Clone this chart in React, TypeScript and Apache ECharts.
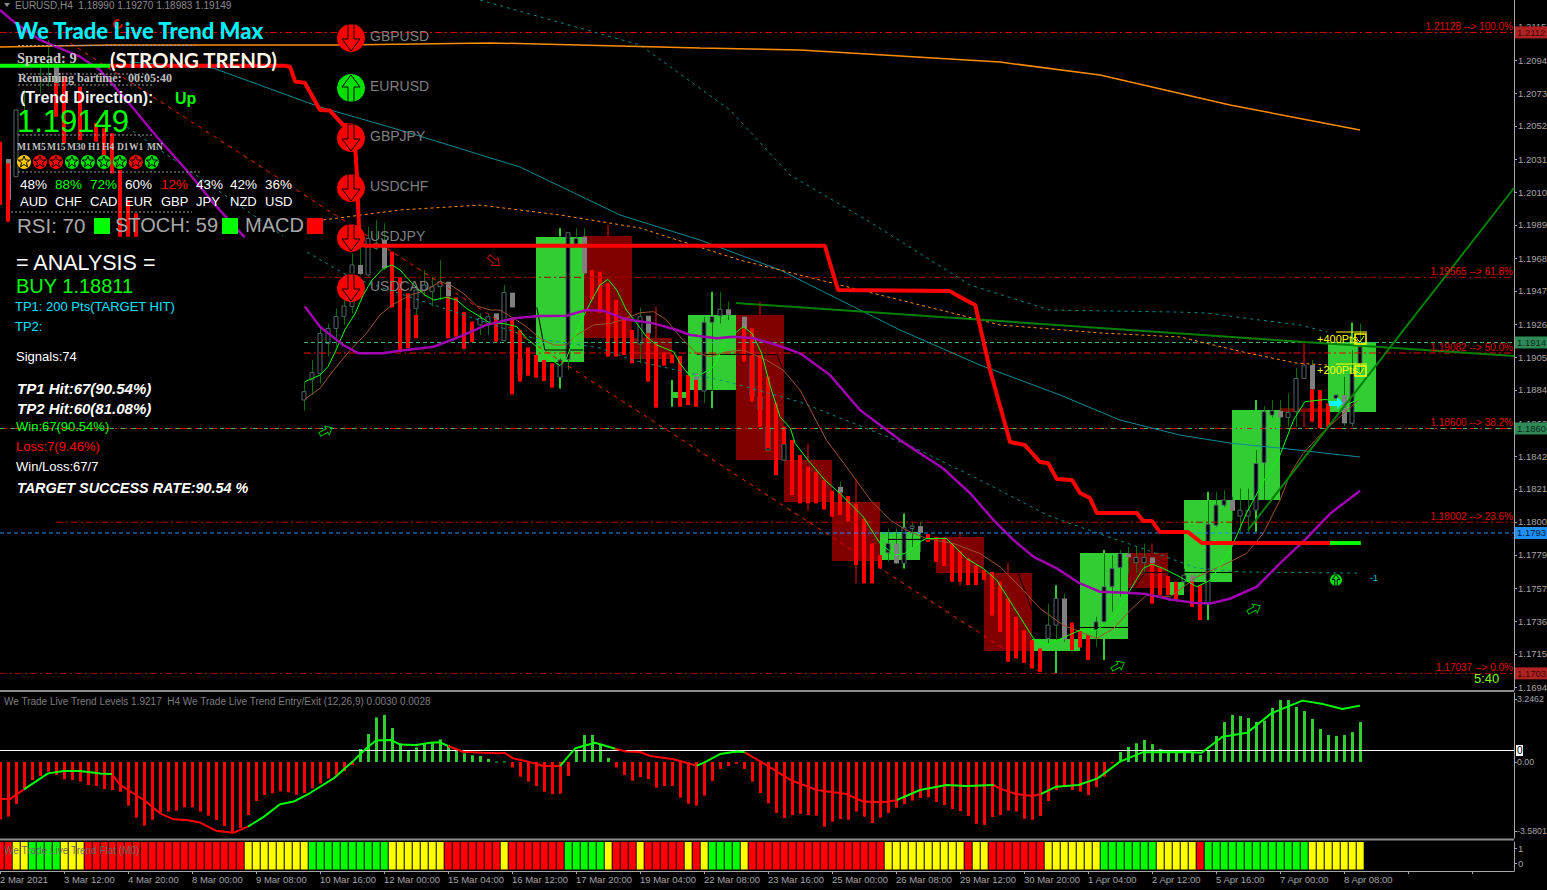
import React, { useEffect, useRef } from "react";
import * as echarts from "echarts";

// ---------- prices are written in points (1.19149 = 119149) ----------
const priceTicks = [121163,120952,120741,120531,120320,120109,119899,119688,119478,119267,119056,118846,118635,118424,118214,118004,117793,117582,117371,117161,116950];
const priceTickLabels = ["1.2115","1.2094","1.2073","1.2052","1.2031","1.2010","1.1989","1.1968","1.1947","1.1926","1.1905","1.1884","1.1863","1.1842","1.1821","1.1800","1.1779","1.1757","1.1736","1.1715","1.1694"];
const timeLabels = ["2 Mar 2021","3 Mar 12:00","4 Mar 20:00","8 Mar 00:00","9 Mar 08:00","10 Mar 16:00","12 Mar 00:00","15 Mar 04:00","16 Mar 12:00","17 Mar 20:00","19 Mar 04:00","22 Mar 08:00","23 Mar 16:00","25 Mar 00:00","26 Mar 08:00","29 Mar 12:00","30 Mar 20:00","1 Apr 04:00","2 Apr 12:00","5 Apr 16:00","7 Apr 00:00","8 Apr 08:00"];

const greenBoxes = [[67,73,119822,119024],[84,86,118833,118795],[86,92,119324,118846],[110,115,117939,117760],[129,135,117256,117180],[135,141,117805,117256],[146,148,117620,117537],[148,154,118144,117620],[154,160,118718,118144],[166,172,119152,118705]];
const darkBoxes = [[73,79,119829,119178],[79,84,119178,119044],[92,98,119324,118399],[98,104,118399,118131],[104,110,118131,117754],[117,123,117907,117677],[123,129,117677,117180],[141,146,117805,117582],[160,166,118730,118705]];

const wicks = [[2,120633,120207],[3,120760,120570],[5,120930,120740],[6,121080,120780],[38,118899,118714],[39,119037,118814],[40,119250,118888],[41,119271,119059],[42,119367,119122],[43,119452,119261],[44,119718,119335],[45,119803,119580],[46,119888,119569],[47,119931,119739],[48,119910,119612],[51,119463,119165],[52,119516,119176],[53,119612,119442],[54,119569,119378],[55,119676,119420],[60,119335,119197],[61,119335,119197],[63,119516,119154],[70,119048,118856],[71,119850,118973],[72,119878,119778],[73,119878,119580],[80,119373,119016],[88,119314,118761],[89,119473,118729],[90,119473,119271],[91,119410,119293],[105,118260,118047],[111,117962,117749],[112,117962,117734],[113,118058,117707],[114,118005,117841],[115,118005,117813],[131,117483,117228],[132,117600,117036],[133,117547,117239],[137,117398,117207],[138,117824,117122],[139,117792,117430],[140,117824,117526],[141,117845,117675],[142,117845,117675],[143,117866,117675],[148,117707,117590],[151,118196,117377],[152,118196,117973],[153,118207,118100],[154,118164,118015],[155,118217,117941],[156,118217,117941],[157,118462,117941],[158,118743,118143],[159,118782,118671],[160,118782,118611],[161,118824,118611],[162,118984,118611],[164,119037,118643],[168,118931,118616],[169,119100,118611],[170,119271,118952]];
const brightWicks = [[70,118931,118856],[70,119878,119825],[84,118910,118739],[89,119473,119314],[89,118839,118729],[113,118058,117968],[113,117739,117707],[132,117249,117036],[132,117600,117515],[138,117824,117802],[138,117366,117122],[151,118196,118143],[151,117483,117377],[157,118782,118718],[157,118079,117941],[169,119277,119143]];
const darkWicks = [[76,119899,119829],[82,119378,119144],[95,119410,119325],[101,118505,118079],[107,118281,117611],[120,117941,117594],[126,117743,117515],[144,117866,117483],[163,119154,119005],[163,118720,118611]];

const hollowBodies = [[2,120633,120207],[38,118835,118782],[39,118956,118910],[40,119207,118952],[41,119239,119144],[42,119314,119239],[43,119382,119314],[44,119644,119378],[46,119814,119580],[47,119782,119750],[51,119367,119165],[52,119484,119367],[53,119516,119484],[54,119505,119473],[55,119537,119505],[60,119303,119261],[61,119314,119271],[63,119467,119161],[65,119048,118941],[70,119037,118927],[71,119850,119041],[72,119814,119778],[80,119314,119139],[88,119278,118839],[89,119314,119278],[90,119361,119320],[94,119059,118803],[95,118803,118718],[96,118612,118463],[98,118500,118398],[111,117866,117807],[113,117968,117739],[114,117977,117962],[131,117345,117260],[132,117515,117345],[137,117366,117313],[138,117590,117366],[139,117707,117590],[140,117802,117713],[142,117777,117743],[143,117777,117743],[148,117664,117622],[151,117990,117483],[152,118111,117983],[153,118143,118111],[155,118079,118041],[156,118079,118041],[157,118377,118079],[158,118707,118382],[159,118713,118686],[161,118701,118671],[162,118920,118707],[163,119005,118920],[167,118814,118792],[169,118952,118633],[170,119122,119016]];
const grayBodies = [[1,120320,120060],[7,120920,120803],[45,119644,119586],[48,119803,119622],[56,119537,119442],[62,119335,119293],[64,119467,119373],[73,119825,119590],[81,119320,119207],[87,118952,118910],[91,119361,119325],[93,119314,119239],[105,118228,118190],[112,117866,117739],[115,117977,117934],[133,117515,117253],[141,117802,117777],[144,117777,117739],[149,117664,117622],[154,118143,118075],[160,118713,118671],[164,119005,118850],[168,118814,118633]];
const redBodies = [[0,120431,120026],[1,120292,119920],[7,120803,120590],[8,120846,120420],[10,120782,120441],[12,120548,120431],[13,120516,120271],[14,120484,120228],[15,120250,119824],[16,120058,119824],[17,119973,119824],[49,119729,119373],[50,119565,119097],[51,119463,119112],[52,119325,119176],[56,119442,119176],[57,119437,119186],[58,119344,119107],[59,119282,119150],[62,119293,119154],[64,119303,118818],[65,119229,118899],[66,119118,118937],[67,119069,118924],[68,119037,118903],[69,119016,118861],[74,119612,119425],[75,119601,119339],[76,119527,119059],[77,119420,119059],[78,119310,119069],[79,119229,119016],[81,119207,118899],[82,119144,118733],[83,119086,119001],[84,119073,119016],[85,119063,118739],[86,118941,118750],[87,118910,118739],[93,119239,119027],[94,119239,118771],[95,119080,118612],[96,118931,118473],[97,118761,118303],[98,118612,118500],[99,118527,118175],[100,118430,118122],[101,118356,118122],[102,118324,118122],[103,118271,118083],[104,118203,118037],[105,118190,118047],[106,118169,118005],[107,118122,117728],[108,118022,117611],[109,117866,117611],[110,117792,117707],[116,117926,117877],[117,117909,117749],[118,117898,117722],[119,117866,117622],[120,117819,117622],[121,117771,117600],[122,117728,117600],[123,117696,117632],[124,117685,117405],[125,117622,117302],[126,117515,117111],[127,117398,117132],[128,117313,117104],[129,117249,117068],[130,117196,117047],[134,117362,117185],[135,117309,117202],[136,117281,117122],[144,117739,117483],[145,117713,117536],[146,117658,117536],[147,117622,117505],[149,117622,117462],[150,117600,117377],[164,118850,118643],[165,118845,118601],[166,118760,118611]];

const fastLine = [[38.1,118899],[40,118941],[41,118995],[42,119101],[43.1,119229],[44.4,119335],[45.4,119452],[46.5,119548],[47.9,119622],[49,119644],[50,119612],[51.7,119516],[53.1,119452],[54.2,119420],[55.8,119437],[57.1,119420],[58.3,119367],[60,119314],[61.3,119271],[62.9,119271],[64.6,119250],[65.8,119176],[67.1,119122],[68.3,119059],[70,119001],[70.8,119048],[71.7,119165],[72.9,119314],[74.2,119442],[75,119516],[76,119552],[77.1,119484],[78.3,119356],[79.6,119271],[80.8,119186],[82.1,119133],[84.2,119090],[85,119016],[86.3,118931],[87.5,118941],[89.2,118995],[90.8,119165],[92.9,119250],[94,119207],[95.2,119080],[96.3,118867],[97.5,118675],[98.8,118601],[99.4,118505],[101,118398],[103.1,118271],[105,118186],[107.9,118037],[110,117866],[111.9,117792],[113.1,117802],[115,117877],[115.8,117898],[118.3,117898],[120.8,117771],[122.9,117707],[124.6,117632],[126.7,117462],[129.2,117260],[130.8,117217],[135,117313],[137.1,117313],[139.2,117398],[141,117547],[142.9,117707],[144,117734],[145.4,117707],[147.5,117653],[149.6,117590],[151.3,117632],[153.8,117824],[155.8,118058],[157.9,118260],[160,118430],[161.7,118654],[163.1,118771],[165.8,118786],[167.9,118739],[170,118792]];
const slowLine = [[38.1,118788],[40,118856],[41.7,118973],[43.8,119101],[45.8,119207],[47.5,119325],[49,119388],[51.3,119452],[53.3,119484],[55,119537],[56.3,119516],[57.9,119463],[59.6,119382],[61.3,119356],[62.5,119356],[64.2,119303],[65.8,119250],[67.5,119176],[69.2,119133],[70.8,119133],[72.1,119197],[74.2,119261],[76.3,119271],[78.3,119303],[80,119339],[81.7,119346],[83.3,119293],[85,119186],[87.1,119080],[88.8,119059],[90.8,119090],[92.9,119101],[95.8,119037],[97.9,118973],[100,118846],[103.3,118526],[105.8,118356],[108.8,118143],[111.3,118015],[113.3,117951],[115.8,117898],[119.2,117866],[122.5,117802],[125,117717],[127.5,117590],[130,117451],[132.9,117345],[137.1,117260],[139.2,117324],[141.3,117441],[143.3,117536],[146.3,117526],[149.6,117653],[152.9,117728],[155.8,117802],[157.9,117930],[160,118143],[161.3,118313],[162.9,118441],[165,118558],[167.5,118675],[170,118792]];
const purpleTop = [[0,121271],[1.7,121197],[5,121080],[10,120973],[12.5,120888],[15.8,120697],[19.6,120462],[23.3,120250],[26.7,120037],[30.6,119820]];
const purpleMain = [[38.1,119378],[40,119250],[42.9,119133],[44.8,119080],[47.9,119080],[50,119097],[54.2,119122],[57.5,119186],[60.8,119261],[64.2,119303],[67.5,119318],[70.8,119320],[73.3,119356],[75.4,119352],[78.3,119297],[81.7,119271],[84.6,119229],[86.3,119197],[89.6,119176],[91.7,119186],[94.2,119176],[97.1,119133],[100,119080],[103.75,118941],[107.5,118718],[112.5,118526],[117.9,118345],[121.3,118185],[124.2,118015],[126.7,117888],[129.2,117781],[132.1,117707],[135,117611],[137.5,117558],[140.8,117551],[143.3,117543],[146.3,117509],[149.2,117488],[151.3,117483],[153.8,117515],[157.1,117590],[160,117739],[163.3,117899],[166.3,118058],[170,118203]];
const stopBuyPart = [[0,120916],[13.75,120916]];
const stopRed = [[13.75,120916],[35.6,120916],[36.25,120909],[36.9,120814],[38.1,120807],[40,120633],[41.25,120629],[42.9,120537],[44,120537],[44.4,120399],[44.6,120228],[44.8,119973],[45,119771],[45.8,119767],[103.1,119767],[104.75,119484],[118.75,119477],[120,119439],[121.9,119388],[123.75,118973],[126.25,118514],[128.1,118495],[130,118386],[131,118380],[132.1,118278],[134,118271],[135,118188],[136.25,118156],[137.1,118061],[142.1,118061],[142.9,118009],[144,118009],[145,117939],[148.5,117939],[150.25,117869],[166.25,117869]];
const stopGreenEnd = [[166.25,117869],[170.1,117869]];
const longGreen = [[92,119401],[163.1,119152],[189.25,119063]];
const riseGreen = [[156,117952],[189.25,120135]];
const orangeSolid = [[0,121035],[13.75,121048],[42.5,121048],[61.25,121061],[87.5,121029],[100,121016],[125,120939],[137.5,120856],[153.75,120665],[170,120505]];
const orangeDash = [[40.4,119931],[50,119995],[60,120026],[70,119963],[80,119880],[92.5,119675],[107.5,119484],[125,119261],[137.5,119210],[147.5,119184],[155.9,119082],[162,119018],[165.9,119005]];
const tealUpper = [[60,121335],[80,121048],[91.25,120633],[98.75,120218],[108.75,119918],[121.25,119516],[131.25,119356],[147.5,119343],[150.9,119337],[157.5,119292],[162.5,119261],[165.9,119216]];
const tealSolid = [[16.25,120939],[26.6,120901],[40,120652],[50,120505],[65,120269],[77.5,119963],[87.5,119803],[97.5,119612],[112.5,119229],[122.5,119005],[132.5,118814],[140,118654],[147.5,118558],[153.75,118507],[160,118475],[170,118418]];
const tealLowerA = [[15.9,120524],[35.4,119829]];
const tealLowerB = [[38.4,119726],[43.75,119567],[66.6,119178],[75,119114],[79.1,119037],[91.6,118890],[100,118769],[114.1,118482],[122.5,118271],[130.9,118048],[135,117971],[143.4,117824],[149.6,117709],[155.4,117684],[170,117677]];
const redDiagonal = [[8.75,121061],[130,117046]];
const blackSegments = [[[67.1,119373],[68.1,119101],[72.9,119101]],[[87.1,119073],[97.1,119073],[97.9,118973]],[[111,117892],[116.9,117892]],[[127.3,117675],[129,117441]],[[141.7,117579],[143.1,117681],[146,117681]],[[135,117330],[141,117330]],[[148,117681],[154,117681]]];

const fibPrices = [121128,119565,119082,118600,118002,117037];
const fibNames = ["1.21128 --> 100.0%","1.19565 --> 61.8%","1.19082 --> 50.0%","1.18600 --> 38.2%","1.18002 --> 23.6%","1.17037 --> 0.0%"];
const fibStarts = [0,38,38,0,7,0];
const fibColors = ["#e00000","#a80000","#f00000","#f00000","#b80000","#a00000"];
const bidPrice = 119149;
const askLevel = 118600;
const blueLevel = 117933;

const macdHist = [-2.97,-2.83,-2.18,-1.42,-.93,-.73,-.5,-.67,-.9,-.93,-1.02,-1.19,-1.24,-1.4,-1.45,-1.54,-2.26,-2.88,-3.3,-2.99,-2.61,-2.57,-2.52,-2.35,-2.35,-2.57,-2.78,-3.01,-3.32,-3.61,-3.42,-2.75,-2.02,-1.71,-1.62,-1.52,-1.57,-1.69,-1.61,-1.36,-1.11,-.85,-.67,-.47,-.16,.67,1.45,2.31,2.44,1.76,.97,.57,.76,.92,1.05,1.17,.88,.62,.45,.35,.31,.16,.02,.03,-.28,-.76,-1.02,-1.24,-1.54,-1.66,-1.64,-.73,.62,1.4,1.4,.88,.21,-.28,-.67,-.97,-.78,-.88,-1.33,-1.24,-1.24,-1.85,-2.16,-2.26,-1.74,-.98,-.36,-.21,-.09,-.36,-1.02,-1.61,-2.14,-2.64,-2.9,-2.75,-2.69,-2.75,-2.78,-3.35,-3.09,-2.95,-2.99,-2.57,-2.83,-3.16,-2.88,-2.64,-2.37,-2.18,-2,-1.87,-1.83,-2.07,-2.23,-2.44,-2.54,-2.8,-3.2,-3.26,-2.85,-2.75,-2.52,-2.57,-2.94,-2.99,-2.8,-2.02,-1.45,-1.23,-1.45,-1.54,-1.71,-1.3,-.76,-.07,.52,.78,.97,1.14,.93,.67,.52,.52,.52,.52,.36,.59,1.35,2.07,2.44,2.38,2.28,2.07,2.14,2.8,3.21,3.21,2.85,2.64,2.23,1.71,1.4,1.35,1.4,1.55,2.07];
const signalRed = [
  [[0,-1.92],[1.25,-1.92],[3,-1.42]],
  [[14,-.62],[15,-1.19],[18,-1.97],[20,-2.66],[21.7,-2.97],[23.3,-3.01],[25,-3.14],[27,-3.56],[29.2,-3.66],[31,-3.35]],
  [[56,.83],[57.9,.53],[60.4,.48],[62.5,.45],[63.1,.48],[64.1,.19],[66,.02],[67.9,-.21],[70,-.21]],
  [[76.9,.69],[78.3,.54],[80,.52],[81.3,.31],[84.2,.14],[87.1,-.19]],
  [[93.1,.5],[95.8,-.16],[98.8,-.93],[102.1,-1.45],[105.8,-1.66],[107.9,-2.05],[110.4,-2.09],[112.1,-1.97]],
  [[124.2,-1.19],[125,-1.38],[127,-1.66],[129.1,-1.76],[130.1,-1.66]],
];
const signalGreen = [
  [[3,-1.42],[6,-.59],[8,-.47],[10,-.47],[12.5,-.59],[14,-.62]],
  [[31,-3.35],[33,-2.83],[35,-2.19],[36.7,-2.05],[38.7,-1.62],[41.7,-.85],[44.2,.07],[45.8,.71],[47,1.11],[48.8,1.14],[50,.91],[52,.88],[53.8,1],[55,1.02],[56,.83]],
  [[70,-.21],[71.9,.71],[74.4,1],[76.9,.69]],
  [[87.1,-.19],[88,-.03],[90,.41],[92.1,.54],[93.1,.5]],
  [[112.1,-1.97],[115,-1.45],[118.3,-1.19],[120.8,-1.24],[124.2,-1.19]],
  [[130.1,-1.66],[132,-1.28],[134.8,-1.19],[137.2,-.85],[140,.02],[142.8,.5],[148.5,.52],[150.2,.48],[152.8,1.31],[155.9,1.52],[158.9,2.52],[162.8,3.18],[165.4,3],[167.8,2.75],[170,2.92]],
];
const levelLine = 0.596;
const macdAxisTicks = [3.2462, 0, -3.5801];
const macdAxisLabels = ["3.2462", "0.00", "-3.5801"];
const flatRuns: [number, number][] = [[2,2],[1,2],[0,4],[1,3],[2,20],[1,8],[0,10],[1,7],[2,7],[1,1],[2,7],[0,5],[1,1],[2,3],[1,1],[2,5],[1,1],[2,1],[1,1],[0,4],[1,1],[2,17],[1,10],[2,1],[1,2],[2,7],[1,7],[0,7],[1,5],[2,1],[0,13],[1,7]];
const flatColors = ["#00ff00", "#ffff00", "#ff0000"];

const symbols = ["GBPUSD","EURUSD","GBPJPY","USDCHF","USDJPY","USDCAD"];
const symbolUp = [false,true,false,false,false,false];
const timeframes = ["M1","M5","M15","M30","H1","H4","D1","W1","MN"];
const tfX = [17,32,47,67,88,102,117,129,147];
const tfStars = [1,2,2,0,0,0,0,2,0];
const strengthPct = ["48%","88%","72%","60%","12%","43%","42%","36%"];
const strengthCur = ["AUD","CHF","CAD","EUR","GBP","JPY","NZD","USD"];
const strengthCol = ["#fff","#00ff00","#00ff00","#fff","#ff0000","#fff","#fff","#fff"];
const strengthX = [20,55,90,125,161,196,230,265];

// ---------- layout ----------
const XMAX = 189.25;
const PX_PER_PT = 1 / 6.383;
const priceY = (pts: number) => (121335 - pts) * PX_PER_PT;
const LABEL_FONT = "Liberation Sans";

const toPrice = (rows: number[][]) => rows.map(([i, p]) => [i, p / 1e5]);

function lineS(data: number[][], color: string, width: number, dash?: any, grid = 0): any {
  return {
    type: "line", xAxisIndex: grid, yAxisIndex: grid, data: grid === 0 ? toPrice(data) : data,
    showSymbol: false, symbol: "none", silent: true, connectNulls: false,
    lineStyle: { color, width, type: dash || "solid" },
  };
}
function barS(rows: number[][], fill: string, w: number, stroke?: string): any {
  return {
    type: "custom", xAxisIndex: 0, yAxisIndex: 0, clip: true, silent: true,
    data: rows.map(([i, a, b]) => [i, a / 1e5, b / 1e5]),
    encode: { x: 0, y: [1, 2] },
    renderItem: (_p: any, api: any) => {
      const a = api.coord([api.value(0), api.value(1)]);
      const b = api.coord([api.value(0), api.value(2)]);
      return { type: "rect", shape: { x: Math.round(a[0] - w / 2), y: a[1], width: w, height: Math.max(1, b[1] - a[1]) },
        style: { fill, stroke: stroke || undefined, lineWidth: stroke ? 1 : 0 } };
    },
  };
}
function boxS(rows: number[][], fill: string): any {
  return {
    type: "custom", xAxisIndex: 0, yAxisIndex: 0, clip: true, silent: true,
    data: rows.map(([a, b, t, c]) => [a, b, t / 1e5, c / 1e5]),
    encode: { x: [0, 1], y: [2, 3] },
    renderItem: (_p: any, api: any) => {
      const p = api.coord([api.value(0), api.value(2)]);
      const q = api.coord([api.value(1), api.value(3)]);
      return { type: "rect", shape: { x: p[0], y: p[1], width: q[0] - p[0], height: q[1] - p[1] }, style: { fill } };
    },
  };
}

function text(x: number, y: number, t: string, fill: string, font: string, align = "left"): any {
  return { type: "text", x, y, z: 100, silent: true, style: { text: t, fill, font, align, verticalAlign: "middle" } };
}
function hline(x1: number, x2: number, y: number, stroke: string, dash?: number[], lineWidth = 1): any {
  return { type: "line", z: 90, silent: true, shape: { x1, y1: y, x2, y2: y }, style: { stroke, lineWidth, lineDash: dash } };
}
function starPts(r: number) {
  const pts: number[][] = [];
  for (let k = 0; k < 10; k++) {
    const a = -Math.PI / 2 + (k * Math.PI) / 5;
    const rr = k % 2 ? r * 0.42 : r;
    pts.push([rr * Math.cos(a), rr * Math.sin(a)]);
  }
  return pts;
}
function signalArrow(cx: number, cy: number, r: number, up: boolean, col: string): any[] {
  const s = up ? -1 : 1;
  const k = r / 14;
  const pts = [[-3,-14],[3,-14],[3,1],[9,1],[0,13],[-9,1],[-3,1]].map(([a, b]) => [cx + a * k, cy + s * b * k]);
  return [
    { type: "circle", z: 95, silent: true, shape: { cx, cy, r }, style: { fill: col } },
    { type: "polygon", z: 96, silent: true, shape: { points: pts }, style: { fill: col, stroke: "#000", lineWidth: 1 } },
  ];
}
function hookArrow(x: number, y: number, rot: number, col: string): any {
  const pts = [[-7,-2],[1,-2],[1,-5],[7,0],[1,5],[1,2],[-7,2]];
  return { type: "polygon", z: 96, silent: true, x, y, rotation: rot, shape: { points: pts }, style: { fill: "none", stroke: col, lineWidth: 1 } };
}

function overlay(): any[] {
  const g: any[] = [];
  const gray = "#9a9a9a";
  const dots = [2, 2];
  g.push(hline(0, 1514, 691, "#8c8c8c", undefined, 2));
  g.push(hline(0, 1514, 839.5, "#8c8c8c", undefined, 2));
  g.push({ type: "polygon", z: 100, silent: true, shape: { points: [[4, 3], [10, 3], [7, 7]] }, style: { fill: "#8a8a8a" } });
  g.push(text(15, 5.5, "EURUSD,H4  1.18990 1.19270 1.18983 1.19149", "#8a8a8a", `10px ${LABEL_FONT}`));
  g.push(text(15, 30, "We Trade Live Trend Max", "#00f0ff", "900 22px Lato"));
  g.push({ type: "arc", z: 96, silent: true, shape: { cx: 118, cy: 24, r: 4, startAngle: 0, endAngle: 5 }, style: { stroke: "#e00000", lineWidth: 2, fill: "none" } });
  g.push(hline(18, 198, 45.5, gray, dots));
  g.push(text(17, 58, "Spread: 9", "#c8c8c8", "bold 14.5px 'Liberation Serif'"));
  g.push(text(110, 60, "(STRONG TREND)", "#fff5e6", "bold 20.4px Lato"));
  g.push(hline(18, 150, 74, gray, dots));
  g.push(text(18, 78, "Remaining bartime:", "#c0c0c0", "bold 12px 'Liberation Serif'"));
  g.push(text(128, 78, "00:05:40", "#c0c0c0", "bold 12px 'Liberation Serif'"));
  g.push(hline(18, 153, 85, gray, dots));
  g.push(text(20, 97, "(Trend Direction):", "#f0f0f0", "bold 16px 'Liberation Sans'"));
  g.push(text(175, 98, "Up", "#00ff00", "bold 16px 'Liberation Sans'"));
  g.push(text(17, 121, "1.19149", "#00ff00", `31px ${LABEL_FONT}`));
  g.push(hline(18, 153, 135, gray, dots));
  timeframes.forEach((t, k) => g.push(text(tfX[k], 147, t, "#c0c0c0", "bold 9.5px 'Liberation Serif'")));
  tfStars.forEach((c, k) => {
    const cx = 24 + k * 15.97;
    const col = ["#00e000", "#ffc800", "#ff0000"][c];
    g.push({ type: "circle", z: 96, silent: true, shape: { cx, cy: 162, r: 7 }, style: { fill: col } });
    g.push({ type: "polygon", z: 97, silent: true, x: cx, y: 162, shape: { points: starPts(6) }, style: { fill: col, stroke: "#000", lineWidth: 1 } });
  });
  g.push(hline(18, 200, 172, gray, dots));
  strengthX.forEach((x, k) => {
    g.push(text(x, 184, strengthPct[k], strengthCol[k], `13.5px ${LABEL_FONT}`));
    g.push(text(x, 201, strengthCur[k], "#ffffff", `13px ${LABEL_FONT}`));
  });
  g.push(hline(11, 192, 212, gray, dots));
  g.push(text(17, 225, "RSI: 70", "#a8a8a8", `20.5px ${LABEL_FONT}`));
  g.push({ type: "rect", z: 96, silent: true, shape: { x: 94, y: 218, width: 16, height: 16 }, style: { fill: "#00ff00" } });
  g.push(text(115, 225, "STOCH: 59", "#a8a8a8", `20px ${LABEL_FONT}`));
  g.push({ type: "rect", z: 96, silent: true, shape: { x: 222, y: 218, width: 16, height: 16 }, style: { fill: "#00ff00" } });
  g.push(text(245, 225, "MACD", "#a8a8a8", `20px ${LABEL_FONT}`));
  g.push({ type: "rect", z: 96, silent: true, shape: { x: 307, y: 218, width: 16, height: 16 }, style: { fill: "#ff0000" } });
  g.push(text(16, 263, "= ANALYSIS =", "#ffffff", `21.5px ${LABEL_FONT}`));
  g.push(text(16, 286, "BUY 1.18811", "#00ff00", `20px ${LABEL_FONT}`));
  g.push(text(15, 306, "TP1: 200 Pts(TARGET HIT)", "#00e5ff", `13px ${LABEL_FONT}`));
  g.push(text(15, 326, "TP2:", "#00e5ff", `13px ${LABEL_FONT}`));
  g.push(text(16, 356, "Signals:74", "#ffffff", `13px ${LABEL_FONT}`));
  g.push(text(17, 388, "TP1 Hit:67(90.54%)", "#ffffff", `italic bold 15px ${LABEL_FONT}`));
  g.push(text(17, 408, "TP2 Hit:60(81.08%)", "#ffffff", `italic bold 15px ${LABEL_FONT}`));
  g.push(text(16, 426, "Win:67(90.54%)", "#00ff00", `13px ${LABEL_FONT}`));
  g.push(text(16, 446, "Loss:7(9.46%)", "#ff0000", `13px ${LABEL_FONT}`));
  g.push(text(16, 466, "Win/Loss:67/7", "#ffffff", `13px ${LABEL_FONT}`));
  g.push(text(17, 488, "TARGET SUCCESS RATE:90.54 %", "#ffffff", `italic bold 14.4px ${LABEL_FONT}`));
  symbols.forEach((s, k) => {
    const cy = 38 + k * 50;
    g.push(...signalArrow(351, cy, 14, symbolUp[k], symbolUp[k] ? "#00e000" : "#ff0000"));
    g.push(text(370, cy - 2, s, "#7f7f7f", `14px ${LABEL_FONT}`));
  });
  fibNames.forEach((n, k) => g.push(text(1513, priceY(fibPrices[k]) - 5.5, n, "#e00000", `10px ${LABEL_FONT}`, "right")));
  g.push(text(1317, 339, "+400Pts", "#ffff00", `11px ${LABEL_FONT}`));
  g.push(text(1317, 370, "+200Pts", "#ffff00", `11px ${LABEL_FONT}`));
  [[1355, 334], [1355, 366]].forEach(([x, y]) => {
    g.push({ type: "rect", z: 97, silent: true, shape: { x, y, width: 11, height: 10 }, style: { fill: "none", stroke: "#ffff00", lineWidth: 1.5 } });
    g.push({ type: "polyline", z: 97, silent: true, shape: { points: [[x + 2, y + 5], [x + 5, y + 8], [x + 9, y + 2]] }, style: { fill: "none", stroke: "#ffff00", lineWidth: 1 } });
    g.push(hline(x - 19, x + 12, y - 2, "#ffff00"));
  });
  g.push({ type: "polygon", z: 97, silent: true, shape: { points: [[1329, 401], [1337, 401], [1337, 397], [1343, 403], [1337, 409], [1337, 406], [1329, 406]] }, style: { fill: "#00ffff" } });
  g.push(...signalArrow(1336, 580, 6, true, "#00e000"));
  g.push(text(1370, 578, "-1", "#00c8d0", `9px ${LABEL_FONT}`));
  g.push(text(1474, 678, "5:40", "#7cfc00", `13px ${LABEL_FONT}`));
  g.push(hookArrow(326, 431, 0.5, "#00c000"));
  g.push(hookArrow(1118, 666, 0.5, "#00c000"));
  g.push(hookArrow(1254, 609, 0.5, "#00c000"));
  g.push(hookArrow(494, 261, -0.7, "#c00000"));
  const tag = (y: number, t: string, fill: string, col: string) => {
    g.push({ type: "rect", z: 98, silent: true, shape: { x: 1515, y: y - 6, width: 32, height: 12 }, style: { fill } });
    g.push(text(1517, y, t, col, `9.5px ${LABEL_FONT}`));
  };
  tag(priceY(121128), "1.2112", "#b22222", "#3a0a0a");
  tag(priceY(bidPrice), "1.1914", "#2e8b57", "#0c2a18");
  tag(priceY(askLevel), "1.1860", "#2e8b57", "#0c2a18");
  tag(priceY(blueLevel), "1.1793", "#1e90ff", "#06213d");
  tag(priceY(117037), "1.1703", "#b22222", "#3a0a0a");
  g.push(text(4, 701.5, "We Trade Live Trend Levels 1.9217  H4 We Trade Live Trend Entry/Exit (12,26,9) 0.0030 0.0028", "#7d7d7d", `10px ${LABEL_FONT}`));
  g.push(text(4, 850.5, "We Trade Live Trend Flat (M0)", "#6a6a6a", `10px ${LABEL_FONT}`));
  g.push({ type: "rect", z: 98, silent: true, shape: { x: 1516, y: 745, width: 7, height: 11 }, style: { fill: "#fff" } });
  g.push(text(1517, 750.5, "0", "#000", `10px ${LABEL_FONT}`));
  return g;
}

function buildOption(): any {
  const labelOf = new Map(priceTicks.map((p, k) => [(p / 1e5).toFixed(5), priceTickLabels[k]]));
  const macdLabelOf = new Map(macdAxisTicks.map((p, k) => [p.toFixed(4), macdAxisLabels[k]]));
  const cells: number[][] = [];
  flatRuns.forEach(([c, n]) => {
    for (let k = 0; k < n; k++) cells.push([cells.length, c]);
  });
  const axisCol = "#a4a4a4";
  const yBase = {
    type: "value", position: "right",
    axisLine: { show: true, onZero: false, lineStyle: { color: axisCol, width: 1 } },
    splitLine: { show: false },
  };
  const xHidden = { type: "value", min: 0, max: XMAX, show: false };
  const labelStyle = { color: axisCol, fontSize: 9.5, fontFamily: LABEL_FONT, margin: 4 };
  const series: any[] = [
    boxS(greenBoxes, "#32cd32"),
    boxS(darkBoxes, "#800000"),
    barS(wicks, "#007000", 1),
    barS(darkWicks, "#800000", 2),
    barS(brightWicks, "#32cd32", 2),
    barS(hollowBodies, "#000", 4, "#50686a"),
    barS(grayBodies, "#808080", 5),
    barS(redBodies, "#ff0000", 4),
  ];
  blackSegments.forEach((s) => series.push(lineS(s, "#000000", 1)));
  fibPrices.forEach((p, k) => series.push(lineS([[fibStarts[k], p], [XMAX, p]], fibColors[k], 1, [7, 3, 2, 3])));
  series.push(lineS([[38, bidPrice], [XMAX, bidPrice]], "#3cb371", 1, [4, 3]));
  series.push(lineS([[0, askLevel], [XMAX, askLevel]], "#3cb371", 1, [4, 7]));
  series.push(lineS([[0, blueLevel], [XMAX, blueLevel]], "#1e90ff", 1, [4, 3]));
  series.push(lineS(redDiagonal, "#ff0000", 1, [4, 5]));
  series.push(lineS(tealUpper, "#0c8a8a", 1, [3, 4]));
  series.push(lineS(tealSolid, "#0a8a96", 1));
  series.push(lineS(tealLowerA, "#0c8a8a", 1, [3, 4]));
  series.push(lineS(tealLowerB, "#0c8a8a", 1, [3, 4]));
  series.push(lineS(orangeSolid, "#ff8c00", 1.5));
  series.push(lineS(orangeDash, "#ff8c00", 1, [3, 3]));
  series.push(lineS(slowLine, "#a0522d", 1));
  series.push(lineS(fastLine, "#00ff00", 1));
  series.push(lineS(purpleTop, "#a000b0", 2.5));
  series.push(lineS(purpleMain, "#a000b0", 2.5));
  series.push(lineS(longGreen, "#008000", 2));
  series.push(lineS(riseGreen, "#008000", 2));
  series.push(lineS(stopRed, "#ff0000", 4));
  series.push(lineS(stopBuyPart, "#00ff00", 4));
  series.push(lineS(stopGreenEnd, "#00ff00", 4));
  series.push({
    type: "custom", xAxisIndex: 1, yAxisIndex: 1, clip: true, silent: true,
    data: macdHist.map((v, i) => [i, v]), encode: { x: 0, y: 1 },
    renderItem: (_p: any, api: any) => {
      const v = api.value(1);
      const a = api.coord([api.value(0), v]);
      const b = api.coord([api.value(0), 0]);
      const top = Math.min(a[1], b[1]);
      return { type: "rect", shape: { x: Math.round(a[0]) - 1, y: top, width: 3, height: Math.max(1, Math.abs(b[1] - a[1])) },
        style: { fill: v < 0 ? "#ff0000" : "#32cd32" } };
    },
  });
  series.push(lineS([[0, levelLine], [XMAX, levelLine]], "#ffffff", 1, undefined, 1));
  signalRed.forEach((s) => series.push(lineS(s, "#ff0000", 2, undefined, 1)));
  signalGreen.forEach((s) => series.push(lineS(s, "#00ff00", 2, undefined, 1)));
  series.push({
    type: "custom", xAxisIndex: 2, yAxisIndex: 2, clip: true, silent: true,
    data: cells, encode: { x: 0, y: 1 },
    renderItem: (_p: any, api: any) => {
      const c = api.coord([api.value(0), 0]);
      return { type: "rect", shape: { x: c[0] - 3.3, y: 842, width: 7, height: 27.5 }, style: { fill: flatColors[api.value(1)] } };
    },
  });
  return {
    animation: false,
    backgroundColor: "#000000",
    grid: [
      { left: 0, top: 0, width: 1514, height: 690, outerBoundsMode: "none" },
      { left: 0, top: 693, width: 1514, height: 145, outerBoundsMode: "none" },
      { left: 0, top: 842, width: 1514, height: 29, outerBoundsMode: "none" },
    ],
    xAxis: [
      { ...xHidden, gridIndex: 0 },
      { ...xHidden, gridIndex: 1 },
      {
        gridIndex: 2, type: "value", min: 0, max: XMAX, interval: 8, splitLine: { show: false },
        axisLine: { show: true, onZero: false, lineStyle: { color: axisCol } },
        axisTick: { show: true, length: 3, lineStyle: { color: axisCol } },
        axisLabel: {
          color: axisCol, fontSize: 9.5, fontFamily: LABEL_FONT, margin: 3, align: "left", hideOverlap: false,
          showMinLabel: true, showMaxLabel: false,
          formatter: (v: number) => (Number.isInteger(v / 8) && timeLabels[v / 8]) || "",
        },
      },
    ],
    yAxis: [
      {
        ...yBase, gridIndex: 0, min: 1.16931, max: 1.21335,
        axisTick: { show: true, length: 3, lineStyle: { color: axisCol }, customValues: priceTicks.map((p) => p / 1e5) },
        axisLabel: { ...labelStyle, customValues: priceTicks.map((p) => p / 1e5), formatter: (v: number) => labelOf.get(v.toFixed(5)) || "" },
      },
      {
        ...yBase, gridIndex: 1, min: -3.938, max: 3.575,
        axisTick: { show: true, length: 3, lineStyle: { color: axisCol }, customValues: macdAxisTicks },
        axisLabel: { ...labelStyle, fontSize: 8.8, margin: 3, customValues: macdAxisTicks, formatter: (v: number) => macdLabelOf.get(v.toFixed(4)) || "" },
      },
      {
        ...yBase, gridIndex: 2, min: -0.47, max: 1.4,
        axisTick: { show: true, length: 3, lineStyle: { color: axisCol }, customValues: [0, 1] },
        axisLabel: { ...labelStyle, customValues: [0, 1], formatter: (v: number) => String(v) },
      },
    ],
    series,
    graphic: { elements: overlay() },
  };
}

export default function App() {
  const ref = useRef<HTMLDivElement>(null);
  useEffect(() => {
    document.body.style.margin = "0";
    document.body.style.background = "#000";
    const chart = echarts.init(ref.current!, undefined, { renderer: "svg" });
    chart.setOption(buildOption());
    return () => chart.dispose();
  }, []);
  return <div ref={ref} style={{ position: "absolute", left: 0, top: 0, width: 1547, height: 890, background: "#000", overflow: "hidden" }} />;
}
